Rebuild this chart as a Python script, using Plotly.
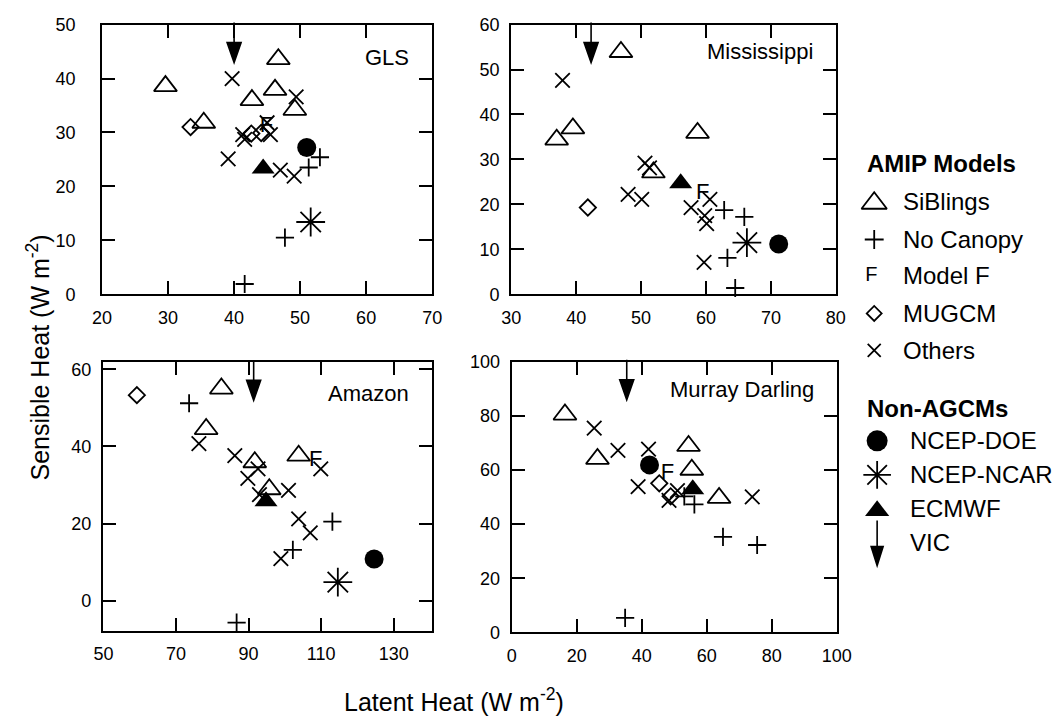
import plotly.graph_objects as go

# Annual-mean surface fluxes per basin: (latent heat, sensible heat) in W m-2

# GLS
GLS_SIBLINGS = [(29.6, 38.6), (35.4, 31.8), (42.7, 36.0), (46.2, 37.9), (46.7, 43.6), (49.2, 34.2)]
GLS_NO_CANOPY = [(41.6, 1.9), (47.7, 10.5), (51.3, 23.5), (53.0, 25.4)]
GLS_MODEL_F = [(44.9, 31.1)]
GLS_MUGCM = [(33.4, 31.0), (42.6, 29.8), (44.1, 29.9)]
GLS_OTHERS = [(39.7, 40.0), (49.4, 36.6), (45.0, 31.8), (45.5, 29.6), (41.3, 29.6),
              (41.6, 28.7), (39.1, 25.1), (47.0, 23.0), (49.1, 21.9)]
GLS_NCEP_DOE = [(51.0, 27.2)]
GLS_NCEP_NCAR = [(51.6, 13.4)]
GLS_ECMWF = [(44.4, 23.3)]
GLS_VIC_LH = [40.0]

# Mississippi
MISS_SIBLINGS = [(37.0, 34.4), (39.5, 36.9), (46.9, 53.9), (51.9, 27.1), (58.7, 35.9)]
MISS_NO_CANOPY = [(62.8, 18.7), (65.9, 17.2), (63.3, 8.1), (64.5, 1.4)]
MISS_MODEL_F = [(59.5, 22.5)]
MISS_MUGCM = [(41.8, 19.3)]
MISS_OTHERS = [(37.9, 47.6), (50.6, 29.2), (51.3, 28.1), (48.0, 22.2), (50.1, 21.1),
               (60.6, 21.1), (57.7, 19.3), (59.8, 17.5), (60.1, 15.7), (59.7, 7.1)]
MISS_NCEP_DOE = [(71.2, 11.2)]
MISS_NCEP_NCAR = [(66.3, 11.5)]
MISS_ECMWF = [(56.1, 24.7)]
MISS_VIC_LH = [42.3]

# Amazon
AMAZ_SIBLINGS = [(82.5, 55.0), (78.3, 44.5), (91.7, 35.9), (95.7, 28.9), (103.8, 37.6)]
AMAZ_NO_CANOPY = [(73.6, 51.2), (113.1, 20.5), (102.2, 13.2), (86.7, -5.7)]
AMAZ_MODEL_F = [(108.5, 36.3)]
AMAZ_MUGCM = [(59.2, 53.3)]
AMAZ_OTHERS = [(76.3, 40.7), (86.2, 37.6), (92.6, 34.2), (89.8, 31.7), (93.0, 27.5),
               (101.0, 28.6), (109.9, 34.2), (103.8, 21.2), (107.0, 17.6), (98.9, 10.9)]
AMAZ_NCEP_DOE = [(124.6, 10.8)]
AMAZ_NCEP_NCAR = [(114.6, 4.8)]
AMAZ_ECMWF = [(94.8, 25.8)]
AMAZ_VIC_LH = [91.4]

# Murray Darling
MD_SIBLINGS = [(16.4, 80.5), (26.4, 64.1), (54.4, 68.9), (55.4, 60.1), (63.8, 49.7)]
MD_NO_CANOPY = [(53.1, 50.3), (56.2, 47.3), (65.0, 35.3), (75.5, 32.3), (34.9, 5.4)]
MD_MODEL_F = [(47.9, 58.7)]
MD_MUGCM = [(45.4, 55.1), (48.9, 50.3)]
MD_OTHERS = [(25.4, 75.5), (32.7, 67.3), (42.1, 67.7), (38.9, 53.9), (51.0, 52.4),
             (48.4, 48.8), (74.0, 50.1)]
MD_NCEP_DOE = [(42.4, 61.9)]
MD_NCEP_NCAR = []
MD_ECMWF = [(55.7, 52.9)]
MD_VIC_LH = [35.4]

BASIN_NAMES = ["GLS", "Mississippi", "Amazon", "Murray Darling"]
X_TITLE = "Latent Heat (W m<sup>-2</sup>)"
Y_TITLE = "Sensible Heat (W m<sup>-2</sup>)"

W, H = 1064, 728
FONT = "Liberation Sans, Arial, Helvetica, sans-serif"
BLACK = "black"
LW = 1.8

STYLES = {
    "siblings": dict(mode="markers", marker=dict(symbol="triangle-up-open", size=20, color=BLACK,
                                                 line=dict(width=LW, color=BLACK))),
    "no_canopy": dict(mode="markers", marker=dict(symbol="cross-thin-open", size=13, color=BLACK,
                                                  line=dict(width=LW, color=BLACK))),
    "model_f": dict(mode="text", textfont=dict(size=22, family=FONT, color=BLACK),
                    textposition="middle center"),
    "mugcm": dict(mode="markers", marker=dict(symbol="diamond-open", size=12.5, color=BLACK,
                                              line=dict(width=LW, color=BLACK))),
    "others": dict(mode="markers", marker=dict(symbol="x-thin-open", size=14.5, color=BLACK,
                                               line=dict(width=LW, color=BLACK))),
    "doe": dict(mode="markers", marker=dict(symbol="circle", size=19, color=BLACK,
                                            line=dict(width=0))),
    "ncar": dict(mode="markers", marker=dict(symbol="asterisk-open", size=24, color=BLACK,
                                             line=dict(width=LW, color=BLACK))),
    "ecmwf": dict(mode="markers", marker=dict(symbol="triangle-up", size=20, color=BLACK,
                                              line=dict(width=0))),
}

# Plot boxes in pixels: (left, top, right, bottom)
panels = [
    dict(name=BASIN_NAMES[0], box=(94.3, 15, 432.3, 292.3), xr=[20, 70], xd=10, x0=20,
         yr=[0, 50], yd=10, y0=0, ystand=21, lab_dy=-33,
         data=dict(siblings=GLS_SIBLINGS, no_canopy=GLS_NO_CANOPY, model_f=GLS_MODEL_F,
                   mugcm=GLS_MUGCM, others=GLS_OTHERS, doe=GLS_NCEP_DOE,
                   ncar=GLS_NCEP_NCAR, ecmwf=GLS_ECMWF), vic=GLS_VIC_LH),
    dict(name=BASIN_NAMES[1], box=(513.3, 15, 845.7, 292.3), xr=[30, 80], xd=10, x0=30,
         yr=[0, 60], yd=10, y0=0, ystand=6, lab_dy=-27,
         data=dict(siblings=MISS_SIBLINGS, no_canopy=MISS_NO_CANOPY, model_f=MISS_MODEL_F,
                   mugcm=MISS_MUGCM, others=MISS_OTHERS, doe=MISS_NCEP_DOE,
                   ncar=MISS_NCEP_NCAR, ecmwf=MISS_ECMWF), vic=MISS_VIC_LH),
    dict(name=BASIN_NAMES[2], box=(95, 362.3, 432.3, 638.3), xr=[49.8, 140.6], xd=20, x0=50,
         yr=[-7.8, 61.8], yd=20, y0=0, ystand=6, lab_dy=-31,
         data=dict(siblings=AMAZ_SIBLINGS, no_canopy=AMAZ_NO_CANOPY, model_f=AMAZ_MODEL_F,
                   mugcm=AMAZ_MUGCM, others=AMAZ_OTHERS, doe=AMAZ_NCEP_DOE,
                   ncar=AMAZ_NCEP_NCAR, ecmwf=AMAZ_ECMWF), vic=AMAZ_VIC_LH),
    dict(name=BASIN_NAMES[3], box=(513.7, 361.7, 846.7, 640), xr=[0, 100], xd=20, x0=0,
         yr=[0, 100], yd=20, y0=0, ystand=6, lab_dy=-28,
         data=dict(siblings=MD_SIBLINGS, no_canopy=MD_NO_CANOPY, model_f=MD_MODEL_F,
                   mugcm=MD_MUGCM, others=MD_OTHERS, doe=MD_NCEP_DOE,
                   ncar=MD_NCEP_NCAR, ecmwf=MD_ECMWF), vic=MD_VIC_LH),
]

ARROW_PATH = "M0,2 L0,-20 M-7,-18 L7,-18 L0,-38 Z"

fig = go.Figure()
annotations = []
shapes = []
layout_axes = {}

axis_common = dict(showline=True, linecolor=BLACK, linewidth=2, mirror="ticks",
                   ticks="inside", ticklen=13, tickwidth=2, tickcolor=BLACK,
                   showgrid=False, zeroline=False, fixedrange=True,
                   tickfont=dict(size=18, family=FONT, color=BLACK))

for i, p in enumerate(panels, start=1):
    sfx = "" if i == 1 else str(i)
    xa, ya = "x" + sfx, "y" + sfx
    left, top, right, bottom = p["box"]
    layout_axes["xaxis" + sfx] = dict(axis_common, domain=[left / W, right / W], range=p["xr"],
                                      tick0=p["x0"], dtick=p["xd"], anchor=ya,
                                      ticklabelstandoff=6)
    layout_axes["yaxis" + sfx] = dict(axis_common, domain=[1 - bottom / H, 1 - top / H],
                                      range=p["yr"], tick0=p["y0"], dtick=p["yd"], anchor=xa,
                                      ticklabelstandoff=p["ystand"])

    for key in ["siblings", "no_canopy", "model_f", "mugcm", "others", "doe", "ncar", "ecmwf"]:
        pts = p["data"][key]
        if not pts:
            continue
        kw = dict(STYLES[key])
        if key == "model_f":
            kw["text"] = ["F"] * len(pts)
        fig.add_trace(go.Scatter(x=[q[0] for q in pts], y=[q[1] for q in pts],
                                 xaxis=xa, yaxis=ya, cliponaxis=False,
                                 showlegend=False, hoverinfo="skip", **kw))

    # VIC: latent heat only, marked by a downward arrow from the top of the frame
    for lh in p["vic"]:
        shapes.append(dict(type="path", xref=xa, yref=ya + " domain",
                           xsizemode="pixel", ysizemode="pixel",
                           xanchor=lh, yanchor=1, path=ARROW_PATH,
                           fillcolor=BLACK, line=dict(color=BLACK, width=1.6)))

    annotations.append(dict(text=p["name"], xref=xa + " domain", yref=ya + " domain",
                            x=1, y=1, xanchor="right", yanchor="middle",
                            xshift=-21, yshift=p["lab_dy"], showarrow=False,
                            font=dict(size=22, family=FONT, color=BLACK)))

# Axis titles shared by all panels
annotations.append(dict(text=Y_TITLE, xref="paper", yref="paper", x=29 / W, y=1 - 357 / H,
                        textangle=-90, showarrow=False, xanchor="center", yanchor="middle",
                        font=dict(size=25, family=FONT, color=BLACK)))
annotations.append(dict(text=X_TITLE, xref="paper", yref="paper", x=455 / W, y=1 - 710 / H,
                        showarrow=False, xanchor="center", yanchor="middle",
                        font=dict(size=25, family=FONT, color=BLACK)))

# Key on the right, drawn on a pixel-scaled overlay axis
layout_axes["xaxis5"] = dict(domain=[0, 1], range=[0, W], visible=False, fixedrange=True, anchor="y5")
layout_axes["yaxis5"] = dict(domain=[0, 1], range=[H, 0], visible=False, fixedrange=True, anchor="x5")

LEG_FONT = dict(size=24, family=FONT, color=BLACK)
amip_items = [("siblings", "SiBlings", 196.7, 22), ("no_canopy", "No Canopy", 236, 13.5),
              ("model_f", "Model F", 273, None), ("mugcm", "MUGCM", 312, 11.5),
              ("others", "Others", 350, 13)]
non_items = [("doe", "NCEP-DOE", 443, 21), ("ncar", "NCEP-NCAR", 478, 23),
             ("ecmwf", "ECMWF", 513, 21)]
amip_keys = [k for k, _, _, _ in amip_items]

annotations.append(dict(text="<b>AMIP Models</b>", xref="paper", yref="paper",
                        x=876 / W, y=1 - 158 / H, xanchor="left", yanchor="middle",
                        showarrow=False, font=LEG_FONT))
annotations.append(dict(text="<b>Non-AGCMs</b>", xref="paper", yref="paper",
                        x=876 / W, y=1 - 410 / H, xanchor="left", yanchor="middle",
                        showarrow=False, font=LEG_FONT))

for key, label, yy, size in amip_items + non_items:
    sx = 885 if key in amip_keys else 888
    tx = 912 if key in amip_keys else 920
    kw = dict(STYLES[key])
    if key == "model_f":
        kw["text"] = ["F"]
        kw["textfont"] = dict(kw["textfont"], size=20)
    else:
        kw["marker"] = dict(kw["marker"], size=size)
    fig.add_trace(go.Scatter(x=[sx - (3 if key == "model_f" else 0)],
                             y=[yy + (2 if key in ("siblings", "ecmwf") else 0)],
                             xaxis="x5", yaxis="y5", cliponaxis=False,
                             showlegend=False, hoverinfo="skip", **kw))
    annotations.append(dict(text=label, xref="paper", yref="paper", x=tx / W, y=1 - yy / H,
                            xanchor="left", yanchor="middle", showarrow=False, font=LEG_FONT))

annotations.append(dict(text="VIC", xref="paper", yref="paper", x=920 / W, y=1 - 548 / H,
                        xanchor="left", yanchor="middle", showarrow=False, font=LEG_FONT))
shapes.append(dict(type="path", xref="paper", yref="paper", xsizemode="pixel", ysizemode="pixel",
                   xanchor=888 / W, yanchor=1 - 525 / H,
                   path="M0,0 L0,-28 M-6,-26 L6,-26 L0,-45 Z",
                   fillcolor=BLACK, line=dict(color=BLACK, width=1.6)))

fig.update_layout(
    width=W, height=H, autosize=False,
    margin=dict(l=0, r=0, t=0, b=0),
    paper_bgcolor="white", plot_bgcolor="rgba(0,0,0,0)",
    showlegend=False,
    font=dict(family=FONT, color=BLACK),
    annotations=annotations, shapes=shapes,
    **layout_axes,
)

fig.write_html("out.html")
